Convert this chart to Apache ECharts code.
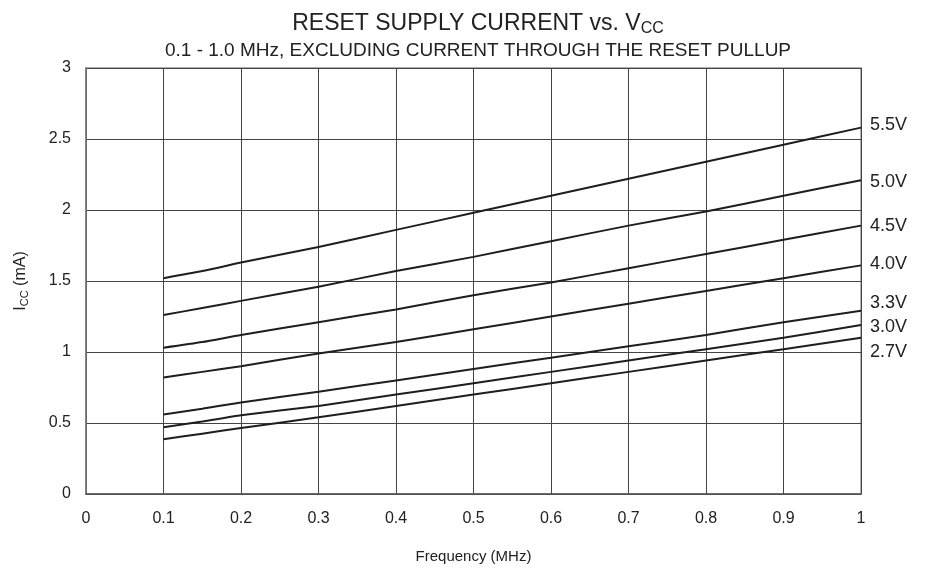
<!DOCTYPE html>
<html>
<head>
<meta charset="utf-8">
<script src="https://cdn.jsdelivr.net/npm/echarts@6/dist/echarts.min.js"></script>
<style>
  html, body { margin: 0; padding: 0; background: #fff; }
  #chart { width: 927px; height: 569px; }
</style>
</head>
<body>
<div id="chart"></div>
<script>
const freq = [0.1, 0.15, 0.2, 0.3, 0.4, 0.5, 0.6, 0.7, 0.8, 0.9, 1.0];
const xTicks = [0, 0.1, 0.2, 0.3, 0.4, 0.5, 0.6, 0.7, 0.8, 0.9, 1];
const seriesNames = ['5.5V', '5.0V', '4.5V', '4.0V', '3.3V', '3.0V', '2.7V'];
const v55 = [1.52, 1.57, 1.63, 1.74, 1.86, 1.98, 2.10, 2.22, 2.34, 2.46, 2.58];
const v50 = [1.26, 1.31, 1.36, 1.46, 1.57, 1.67, 1.78, 1.89, 1.99, 2.10, 2.21];
const v45 = [1.03, 1.07, 1.12, 1.21, 1.30, 1.40, 1.49, 1.59, 1.69, 1.79, 1.89];
const v40 = [0.82, 0.86, 0.90, 0.99, 1.07, 1.16, 1.25, 1.34, 1.43, 1.52, 1.61];
const v33 = [0.56, 0.60, 0.645, 0.72, 0.80, 0.88, 0.96, 1.04, 1.12, 1.21, 1.29];
const v30 = [0.47, 0.51, 0.555, 0.62, 0.70, 0.78, 0.86, 0.94, 1.02, 1.10, 1.19];
const v27 = [0.385, 0.425, 0.465, 0.54, 0.62, 0.70, 0.78, 0.86, 0.94, 1.02, 1.10];

// label nudges so the right-hand names sit like the original
const labelDy = [-3, 2, 0, -1, -8, 2, 14];

const chart = echarts.init(document.getElementById('chart'));
const font = 'Liberation Sans, Arial, sans-serif';

const allValues = [v55, v50, v45, v40, v33, v30, v27];
const series = allValues.map((vals, i) => ({
  name: seriesNames[i],
  type: 'line',
  data: freq.map((f, j) => [f, vals[j]]),
  symbol: 'none',
  smooth: 0.2,
  lineStyle: { color: '#1e1e1e', width: 2 },
  endLabel: {
    show: true,
    formatter: seriesNames[i],
    color: '#222',
    fontFamily: font,
    fontSize: 18,
    distance: 9,
    offset: [0, labelDy[i]]
  },
  animation: false
}));

chart.setOption({
  animation: false,
  title: [{
    text: 'RESET SUPPLY CURRENT vs. V{sub|CC}',
    left: 473,
    top: 6,
    textAlign: 'center',
    textStyle: {
      fontFamily: font,
      fontSize: 23,
      fontWeight: 'normal',
      color: '#222',
      rich: {
        sub: { fontSize: 16, fontFamily: font, color: '#222', padding: [10, 0, 0, 0] }
      }
    }
  }, {
    text: '0.1 - 1.0 MHz, EXCLUDING CURRENT THROUGH THE RESET PULLUP',
    left: 473,
    top: 36,
    textAlign: 'center',
    textStyle: { fontFamily: font, fontSize: 19, fontWeight: 'normal', color: '#222' }
  }],
  grid: { left: 86, right: 66, top: 68, bottom: 74, show: true, borderColor: '#999', borderWidth: 1.5 },
  xAxis: {
    type: 'value',
    min: 0,
    max: 1,
    interval: 0.1,
    name: 'Frequency (MHz)',
    nameLocation: 'middle',
    nameGap: 55,
    nameTextStyle: { fontFamily: font, fontSize: 15, color: '#222' },
    axisLine: { show: true, lineStyle: { color: '#555', width: 1.5 } },
    axisTick: { show: false },
    axisLabel: {
      fontFamily: font, fontSize: 16, color: '#222', margin: 17,
      formatter: v => {
        const t = xTicks.find(x => Math.abs(x - v) < 1e-6);
        return t === undefined ? '' : String(t);
      }
    },
    splitLine: { show: true, lineStyle: { color: '#444', width: 1 } }
  },
  yAxis: {
    type: 'value',
    min: 0,
    max: 3,
    interval: 0.5,
    name: 'I{sub|CC} (mA)',
    nameLocation: 'middle',
    nameGap: 56,
    nameRotate: 90,
    nameTextStyle: {
      fontFamily: font, fontSize: 16, color: '#222',
      rich: { sub: { fontSize: 11, fontFamily: font, color: '#222', padding: [7, 0, 0, 0] } }
    },
    axisLine: { show: true, lineStyle: { color: '#777', width: 1.5 } },
    axisTick: { show: false },
    axisLabel: { fontFamily: font, fontSize: 16, color: '#222', margin: 15 },
    splitLine: { show: true, lineStyle: { color: '#444', width: 1 } }
  },
  series: series
});
</script>
</body>
</html>
